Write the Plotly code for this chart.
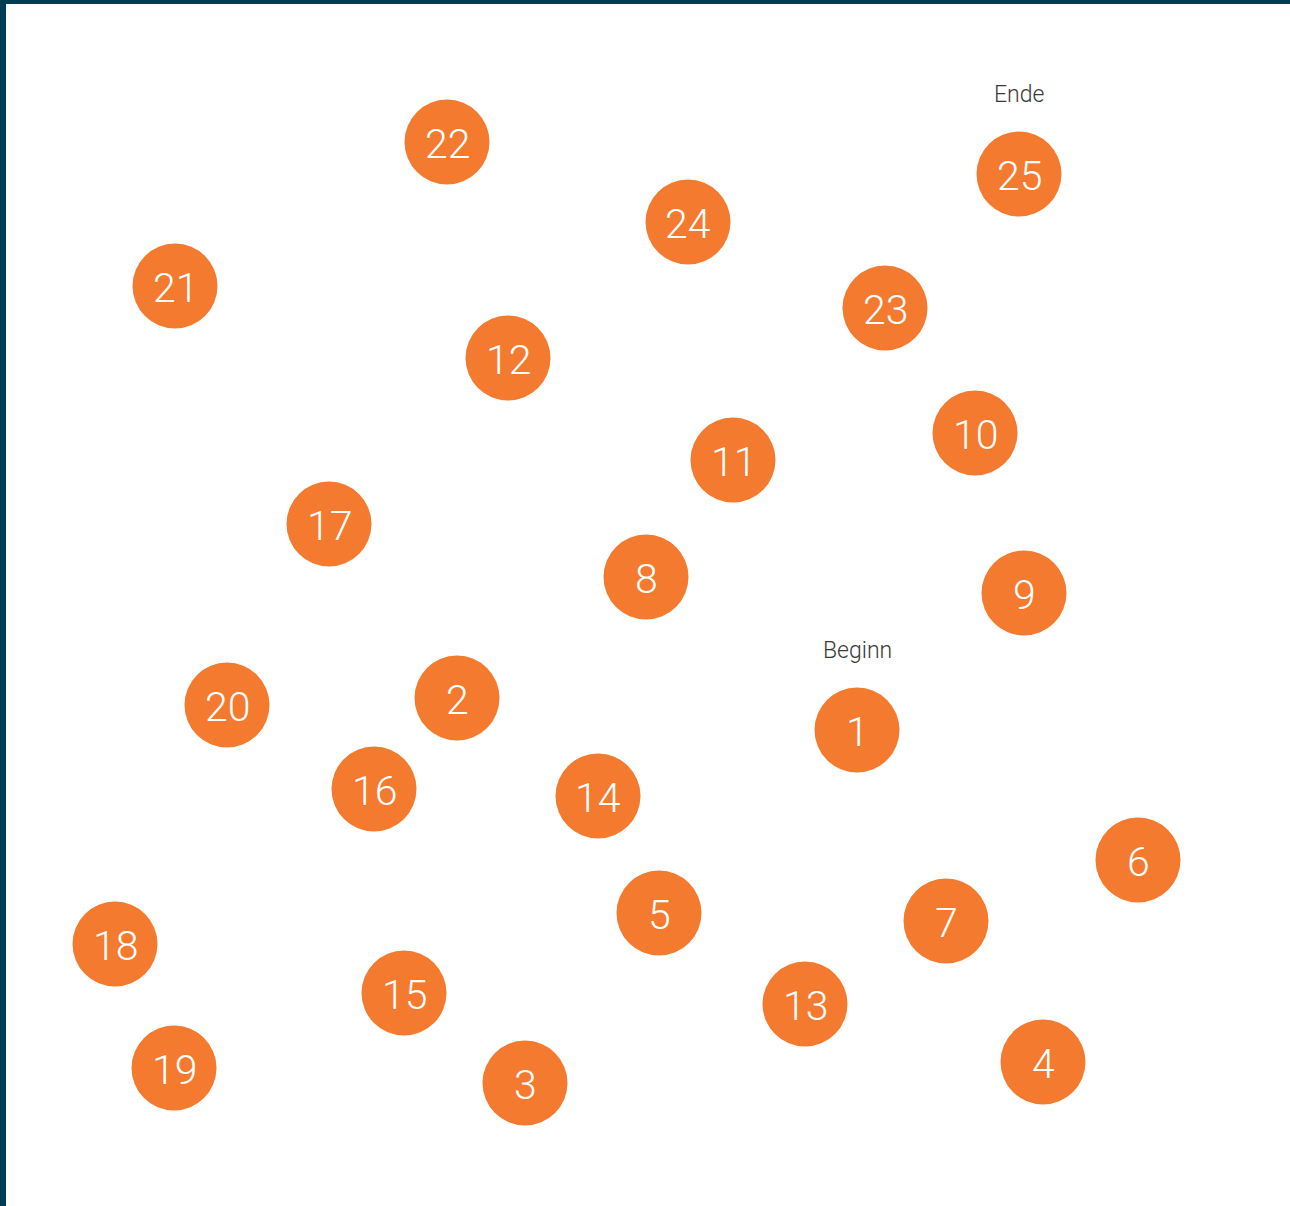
import plotly.graph_objects as go

# Dot numbers and their positions (horizontal, vertical; vertical measured downward)
dot_numbers = list(range(1, 26))
x_pos = [857, 457, 525, 1043, 659, 1138, 946, 646, 1024, 975,
         733, 508, 805, 598, 404, 374, 329, 115, 174, 227,
         175, 447, 885, 688, 1019]
y_pos = [730, 698, 1083, 1062, 913, 860, 921, 577, 593, 433,
         460, 358, 1004, 796, 993, 789, 524, 944, 1068, 705,
         286, 142, 308, 222, 174]

# Annotation labels
label_texts = ["Beginn", "Ende"]
label_dots = [1, 25]

W, H = 1290, 1206
ORANGE = "#F37A2E"
BORDER = "#003D52"

fig = go.Figure()
fig.add_trace(go.Scatter(
    x=x_pos, y=y_pos,
    mode="markers",
    marker=dict(size=85, color=ORANGE, line=dict(width=0)),
    hoverinfo="skip",
    cliponaxis=False,
))

annotations = []
for n, xv, yv in zip(dot_numbers, x_pos, y_pos):
    annotations.append(dict(
        x=xv, y=yv, xref="x", yref="y", text=str(n), showarrow=False,
        xanchor="center", yanchor="middle", yshift=-2,
        font=dict(family="Roboto", size=41, color="white", weight=300),
    ))
for t, d in zip(label_texts, label_dots):
    annotations.append(dict(
        x=x_pos[d - 1], y=y_pos[d - 1], xref="x", yref="y", text=t, showarrow=False,
        xanchor="center", yanchor="middle", yshift=80,
        font=dict(family="Roboto", size=23, color="#3a3a3a", weight=300),
    ))

fig.update_layout(
    width=W, height=H,
    margin=dict(l=0, r=0, t=0, b=0),
    paper_bgcolor="white", plot_bgcolor="white",
    showlegend=False,
    xaxis=dict(range=[0, W], visible=False, fixedrange=True),
    yaxis=dict(range=[H, 0], visible=False, fixedrange=True),
    annotations=annotations,
    shapes=[
        dict(type="rect", xref="paper", yref="paper", x0=0, x1=6 / W, y0=0, y1=1,
             fillcolor=BORDER, line=dict(width=0), layer="above"),
        dict(type="rect", xref="paper", yref="paper", x0=0, x1=1, y0=1 - 4 / H, y1=1,
             fillcolor=BORDER, line=dict(width=0), layer="above"),
    ],
)

fig.write_html(
    "out.html",
    config={"displayModeBar": False},
    post_script="document.body.style.margin='0';document.body.style.padding='0';",
)
